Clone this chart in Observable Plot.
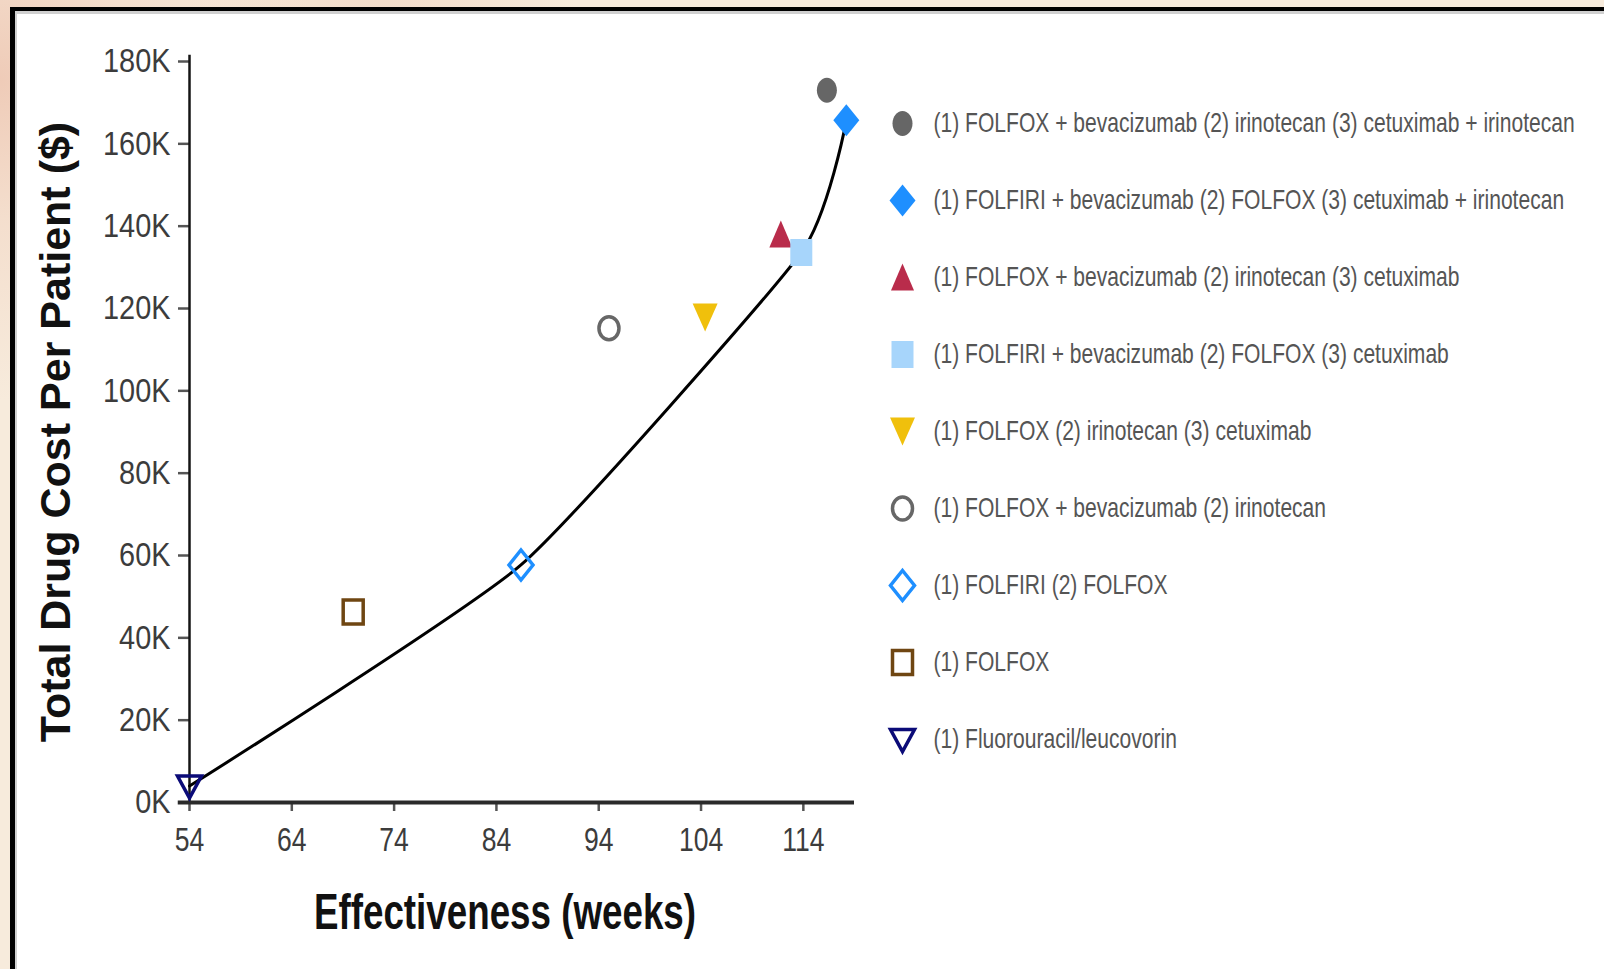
<!DOCTYPE html>
<html><head><meta charset="utf-8">
<script src="https://cdn.jsdelivr.net/npm/d3@7"></script>
<script src="https://cdn.jsdelivr.net/npm/@observablehq/plot@0.6"></script>
<style>
html,body{margin:0;padding:0;}
body{width:1604px;height:969px;overflow:hidden;position:relative;
 background:
  radial-gradient(circle at 0px 80px, rgba(238,200,180,0.9) 0, rgba(242,214,196,0.6) 140px, rgba(247,235,220,0) 320px),
  radial-gradient(circle at 380px -40px, rgba(240,210,190,0.7) 0, rgba(247,235,220,0) 200px),
  #f7ebdc;
 font-family:"Liberation Sans", Arial, sans-serif;}
#panel{position:absolute;left:10px;top:7px;width:1600px;height:958px;background:#fff;border-left:5px solid #000;border-top:4px solid #000;box-shadow: inset 2px 3px 0 #d0d0d0;border-bottom:2px solid #cfcfcf;}
#chart{position:absolute;left:0;top:0;}
#legend{position:absolute;left:880px;top:0;}
</style></head><body>
<div id="panel"></div>
<div id="chart"></div>
<div id="legend"></div>
<script>
// ---- data (legend order) ----
const strategies = [
  "(1) FOLFOX + bevacizumab (2) irinotecan (3) cetuximab + irinotecan",
  "(1) FOLFIRI + bevacizumab (2) FOLFOX (3) cetuximab + irinotecan",
  "(1) FOLFOX + bevacizumab (2) irinotecan (3) cetuximab",
  "(1) FOLFIRI + bevacizumab (2) FOLFOX (3) cetuximab",
  "(1) FOLFOX (2) irinotecan (3) cetuximab",
  "(1) FOLFOX + bevacizumab (2) irinotecan",
  "(1) FOLFIRI (2) FOLFOX",
  "(1) FOLFOX",
  "(1) Fluorouracil/leucovorin"
];
const effectivenessWeeks = [116.3, 118.2, 111.8, 113.8, 104.4, 95.0, 86.4, 70.0, 54.0];
const totalDrugCost = [173000, 165700, 138000, 133600, 117800, 115200, 57700, 46300, 4000];
const frontierStrategies = [
  "(1) Fluorouracil/leucovorin",
  "(1) FOLFIRI (2) FOLFOX",
  "(1) FOLFIRI + bevacizumab (2) FOLFOX (3) cetuximab",
  "(1) FOLFIRI + bevacizumab (2) FOLFOX (3) cetuximab + irinotecan"
];
const xTicks = [54, 64, 74, 84, 94, 104, 114];
const yTicks = [0, 20000, 40000, 60000, 80000, 100000, 120000, 140000, 160000, 180000];
const xLabel = "Effectiveness (weeks)";
const yLabel = "Total Drug Cost Per Patient ($)";

// ---- styles ----
const markerColors = ["#666666", "#1e8fff", "#b92c4b", "#a7d5fb", "#f0c00c", "#676767", "#1e8fff", "#6f4612", "#0b0b78"];
const markerFilled = [true, true, true, true, true, false, false, false, false];

function ellipseSym(rx, ry) {
  return {draw(c) {
    const k = 0.5523;
    c.moveTo(rx, 0);
    c.bezierCurveTo(rx, k * ry, k * rx, ry, 0, ry);
    c.bezierCurveTo(-k * rx, ry, -rx, k * ry, -rx, 0);
    c.bezierCurveTo(-rx, -k * ry, -k * rx, -ry, 0, -ry);
    c.bezierCurveTo(k * rx, -ry, rx, -k * ry, rx, 0);
    c.closePath();
  }};
}
function polySym(pts) {
  return {draw(c) {
    c.moveTo(pts[0][0], pts[0][1]);
    for (let i = 1; i < pts.length; i++) c.lineTo(pts[i][0], pts[i][1]);
    c.closePath();
  }};
}
const symbols = [
  ellipseSym(10, 12.5),
  polySym([[0, -16], [13, 0], [0, 16], [-13, 0]]),
  polySym([[0, -14], [11.5, 13], [-11.5, 13]]),
  polySym([[-11, -13.5], [11, -13.5], [11, 13.5], [-11, 13.5]]),
  polySym([[-12.5, -14], [12.5, -14], [0, 14]]),
  ellipseSym(10, 11.5),
  polySym([[0, -15], [12, 0], [0, 15], [-12, 0]]),
  polySym([[-10, -12], [10, -12], [10, 12], [-10, 12]]),
  polySym([[-12, -10], [12, -10], [0, 12]])
];

const rows = strategies.map((s, i) => ({
  strategy: s, weeks: effectivenessWeeks[i], cost: totalDrugCost[i],
  fill: markerFilled[i] ? markerColors[i] : "none",
  stroke: markerFilled[i] ? "none" : markerColors[i]
}));
const frontier = frontierStrategies.map(s => rows.find(r => r.strategy === s)).sort((a, b) => a.weeks - b.weeks);

const font = "Liberation Sans, Arial, sans-serif";

const chart = Plot.plot({
  width: 880, height: 969,
  marginLeft: 189, marginRight: 26, marginTop: 61, marginBottom: 167,
  style: {background: "transparent", fontFamily: font, overflow: "visible"},
  x: {domain: [54, 119]},
  y: {domain: [0, 180000]},
  symbol: {domain: strategies, range: symbols},
  color: {type: "identity"},
  marks: [
    Plot.axisX({ticks: xTicks, tickSize: 9, tickPadding: 15, fontSize: 34, label: null, stroke: "#555", fill: "#3c3c3c", strokeWidth: 2.5}),
    Plot.axisY({ticks: yTicks, tickFormat: d => d / 1000 + "K", tickSize: 11, tickPadding: 8, fontSize: 34, label: null, stroke: "#555", fill: "#3c3c3c", strokeWidth: 2.5}),
    Plot.ruleX([54], {y1: 0, y2: 181500, stroke: "#141414", strokeWidth: 2.5}),
    Plot.ruleY([0], {x1: 52.9, x2: 119, stroke: "#2a2a2a", strokeWidth: 4}),
    Plot.line(frontier, {x: "weeks", y: "cost", curve: d3.curveCardinal.tension(0.5), stroke: "#000", strokeWidth: 3}),
    Plot.dot(rows, {x: "weeks", y: "cost", symbol: "strategy", fill: "fill", stroke: "stroke", strokeWidth: 3.5, r: 10}),
    Plot.text([xLabel], {frameAnchor: "bottom", dy: 126, dx: -17, fontSize: 50, fontWeight: "bold", fill: "#111", className: "xlab"}),
    Plot.text([yLabel], {frameAnchor: "left", textAnchor: "middle", rotate: -90, dx: -133, fontSize: 43, fontWeight: "bold", fill: "#111"})
  ]
});
document.getElementById("chart").appendChild(chart);

const legend = Plot.plot({
  width: 724, height: 969, margin: 0,
  style: {background: "transparent", fontFamily: font, overflow: "visible"},
  y: {type: "point", domain: strategies, range: [123, 739], padding: 0, axis: null},
  symbol: {domain: strategies, range: symbols},
  color: {type: "identity"},
  marks: [
    Plot.dot(rows, {y: "strategy", frameAnchor: "left", dx: 22, symbol: "strategy", fill: "fill", stroke: "stroke", strokeWidth: 3.5, r: 10}),
    Plot.text(rows, {y: "strategy", text: "strategy", frameAnchor: "left", dx: 53, textAnchor: "start", fontSize: 27, fill: "#555", className: "legtext"})
  ]
});
document.getElementById("legend").appendChild(legend);

// condense text horizontally
function condense(sel, f, fixed) {
  document.querySelectorAll(sel).forEach(el => {
    const len = fixed || el.getComputedTextLength() * f;
    el.setAttribute("textLength", len);
    el.setAttribute("lengthAdjust", "spacingAndGlyphs");
  });
}
function squeeze(sel, f) {
  document.querySelectorAll(sel).forEach(el => {
    const x = +(el.getAttribute("x") || 0);
    const t = el.getAttribute("transform") || "";
    el.setAttribute("transform", `${t} translate(${x},0) scale(${f},1) translate(${-x},0)`);
  });
}
condense('#chart g[aria-label="y-axis tick label"] text', 0.85);
condense('#chart g[aria-label="x-axis tick label"] text', 0.78);
condense('#chart .xlab text', 0, 382);
squeeze('#legend .legtext text', 0.78);
</script>
</body></html>
